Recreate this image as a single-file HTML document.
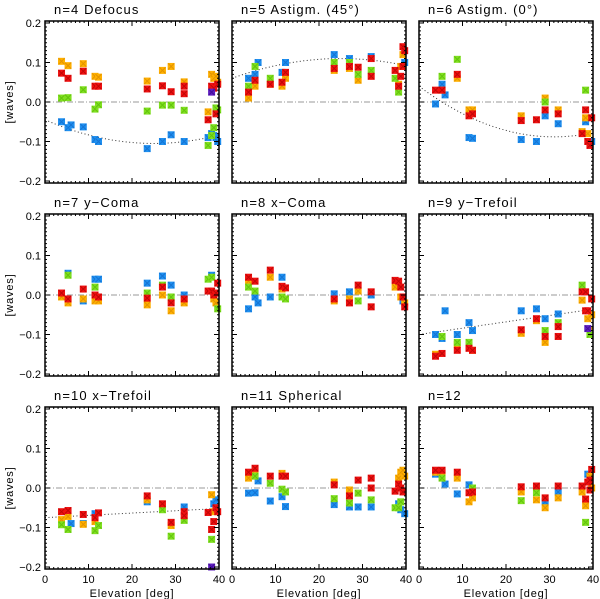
<!DOCTYPE html>
<html><head><meta charset="utf-8"><style>
html,body{margin:0;padding:0;background:#fff;}
svg{display:block;font-family:"Liberation Sans",sans-serif;}
</style></head><body>
<svg id="chart" width="600" height="599" viewBox="0 0 600 599" xmlns="http://www.w3.org/2000/svg"></svg>
<script>
const xTicks=[0,10,20,30,40];
const yTicks=[0.2,0.1,0.0,-0.1,-0.2];
const yTickLabels=["0.2","0.1","0.0","\u22120.1","\u22120.2"];
const titles=["n=4 Defocus","n=5 Astigm. (45\u00b0)","n=6 Astigm. (0\u00b0)","n=7 y\u2212Coma","n=8 x\u2212Coma","n=9 y\u2212Trefoil","n=10 x\u2212Trefoil","n=11 Spherical","n=12"];
// [elevation, waves]
const p4_blue=[[3.8,-.05],[5.3,-.065],[6,-.058],[8.8,-.063],[11.5,-.095],[12.3,-.1],[23.5,-.118],[27,-.1],[29,-.083],[32,-.1],[37.5,-.09],[38.3,-.08],[38.8,-.085],[39.3,-.09],[39.7,-.1]];
const p4_orange=[[3.8,.103],[5.3,.092],[8.8,.097],[11.5,.065],[12.3,.063],[23.5,.053],[27,.08],[29,.09],[32,.051],[37.5,-.025],[38.3,.07],[38.8,.06],[39.3,.065],[39.7,.05]];
const p4_green=[[3.8,.01],[5.3,.011],[8.8,.031],[11.5,-.018],[12.3,-.007],[23.5,-.023],[27,-.008],[29,-.008],[32,-.021],[37.5,-.11],[38.3,-.085],[38.8,-.065],[39.3,-.015],[39.7,-.02]];
const p4_red=[[3.8,.073],[5.3,.06],[8.8,.078],[11.5,.04],[12.3,.04],[23.5,.033],[27,.041],[29,.026],[32,.04],[32,.021],[37.5,-.045],[38.3,.04],[38.8,.035],[39.3,-.03],[39.7,.045]];
const p4_purple=[[38.3,.025]];
const p5_blue=[[3.8,.06],[5.3,.07],[6,.1],[11.5,.075],[12.3,.1],[23.5,.12],[27,.11],[32,.115],[39.7,.1]];
const p5_orange=[[3.8,.01],[5.3,.04],[8.8,.045],[11.5,.04],[12.3,.06],[23.5,.08],[27,.085],[29,.055],[38.3,.045],[38.8,.09],[39.3,.12]];
const p5_green=[[3.8,.04],[5.3,.09],[8.8,.06],[23.5,.1],[27,.1],[29,.07],[32,.08],[37.5,.06],[38.3,.025]];
const p5_red=[[3.8,.025],[5.3,.055],[8.8,.045],[11.5,.05],[12.3,.075],[23.5,.085],[27,.09],[29,.088],[32,.11],[32,.065],[37.5,.08],[38.3,.04],[38.8,.065],[39.3,.14],[39.3,.09],[39.7,.13]];
const p6_blue=[[3.8,-.005],[5.3,.045],[6,.018],[11.5,-.09],[12.3,-.092],[23.5,-.095],[27,-.1],[29,-.035],[32,-.055],[38.3,-.05],[39.7,-.1]];
const p6_orange=[[5.3,.03],[8.8,.06],[11.5,-.02],[12.3,-.02],[23.5,-.035],[29,.01],[32,-.02],[37.5,-.075],[38.3,-.04],[38.8,-.08]];
const p6_green=[[5.3,.065],[8.8,.108],[29,0],[38.3,.03]];
const p6_red=[[3.8,.03],[5.3,.03],[8.8,.07],[11.5,-.035],[12.3,-.03],[23.5,-.047],[27,-.045],[29,-.02],[32,-.03],[37.5,-.08],[38.3,-.02],[38.8,-.1],[39.3,-.11],[39.7,-.04]];
const p7_blue=[[5.3,.055],[8.8,-.015],[11.5,.04],[12.3,.04],[23.5,.03],[27,.048],[29,.025],[32,0],[38.3,.05]];
const p7_orange=[[3.8,-.005],[5.3,-.02],[8.8,-.01],[11.5,-.015],[12.3,-.015],[23.5,-.025],[27,0],[29,-.04],[32,-.02],[38.8,-.01],[39.3,-.02]];
const p7_green=[[5.3,.05],[11.5,.02],[23.5,.005],[27,.025],[29,-.005],[37.5,.04],[38.3,.045],[39.7,-.035]];
const p7_red=[[3.8,.005],[5.3,-.01],[8.8,.015],[11.5,0],[12.3,-.005],[23.5,-.008],[27,.02],[29,-.02],[32,-.01],[37.5,.01],[38.3,.01],[38.8,0],[39.3,.005],[39.7,.03]];
const p8_blue=[[3.8,-.035],[5.3,-.005],[6,-.02],[8.8,-.005],[11.5,.045],[23.5,.003],[27,.008],[32,0],[39.3,-.015]];
const p8_orange=[[3.8,.035],[8.8,.045],[11.5,.015],[23.5,-.015],[27,-.01],[29,.01],[37.5,.02],[38.3,.03],[38.8,-.005],[39.7,-.02]];
const p8_green=[[3.8,.02],[5.3,.01],[11.5,-.005],[12.3,-.01],[29,-.015]];
const p8_red=[[3.8,.045],[5.3,.035],[8.8,.063],[11.5,.022],[12.3,.018],[23.5,-.01],[27,-.02],[29,.025],[32,.008],[32,-.03],[37.5,.037],[38.3,.035],[38.8,.02],[39.3,-.005],[39.7,-.03]];
const p9_blue=[[3.8,-.1],[5.3,-.11],[6,-.04],[8.8,-.1],[11.5,-.07],[12.3,-.09],[23.5,-.04],[27,-.035],[29,-.06],[32,-.048]];
const p9_orange=[[3.8,-.15],[8.8,-.125],[12.3,-.14],[23.5,-.097],[27,-.065],[29,-.12],[37.5,-.013],[38.8,-.06],[39.3,-.09],[39.7,-.05]];
const p9_green=[[5.3,-.105],[8.8,-.12],[11.5,-.12],[29,-.09],[32,-.07],[37.5,.025],[39.3,-.1]];
const p9_red=[[3.8,-.155],[5.3,-.148],[8.8,-.14],[11.5,-.135],[12.3,-.14],[23.5,-.088],[27,-.06],[29,-.105],[32,-.08],[32,-.105],[37.5,.008],[38.3,.008],[38.3,-.04],[38.8,-.04],[39.7,-.01]];
const p9_purple=[[38.8,-.085]];
const p10_blue=[[6,-.09],[8.8,-.09],[11.5,-.065],[23.5,-.035],[32,-.048],[38.8,-.04],[39.3,-.03]];
const p10_orange=[[3.8,-.08],[5.3,-.072],[8.8,-.092],[11.5,-.085],[23.5,-.03],[29,-.095],[38.3,-.017],[38.8,-.06]];
const p10_green=[[3.8,-.093],[5.3,-.105],[11.5,-.108],[12.3,-.095],[27,-.055],[29,-.122],[32,-.082],[38.3,-.13]];
const p10_red=[[3.8,-.06],[5.3,-.057],[8.8,-.067],[11.5,-.075],[12.3,-.063],[23.5,-.02],[27,-.04],[29,-.087],[32,-.06],[32,-.07],[37.5,-.062],[38.3,-.105],[38.8,-.085],[39.3,-.05],[39.7,-.06]];
const p10_purple=[[38.3,-.2]];
const p11_blue=[[3.8,-.013],[5.3,-.012],[6,.018],[8.8,-.033],[11.5,-.022],[12.3,-.047],[23.5,-.042],[27,-.048],[29,-.048],[32,-.048],[38.3,-.04],[38.8,-.055],[39.7,-.065]];
const p11_orange=[[3.8,.025],[5.3,.035],[11.5,.037],[23.5,.015],[27,-.005],[38.3,.025],[38.8,.04],[39.3,.045],[39.7,.03]];
const p11_green=[[5.3,.03],[8.8,.012],[11.5,-.003],[12.3,-.01],[23.5,-.027],[27,-.038],[29,-.013],[32,-.03],[37.5,-.05],[38.3,-.05],[38.8,-.035]];
const p11_red=[[3.8,.04],[5.3,.05],[8.8,.03],[11.5,.03],[12.3,.03],[23.5,.008],[27,-.02],[29,.02],[32,.025],[32,0],[37.5,-.008],[38.3,.01],[38.8,0],[39.3,-.01]];
const p12_blue=[[3.8,.035],[6,.01],[8.8,-.015],[11.5,.008],[29,-.035],[32,-.01],[38.8,.035]];
const p12_orange=[[3.8,.04],[5.3,.04],[8.8,.025],[11.5,-.035],[12.3,-.025],[23.5,-.01],[27,-.03],[29,-.05],[32,-.025],[37.5,-.01],[38.3,-.045],[39.3,.03],[39.7,0]];
const p12_green=[[5.3,.025],[12.3,0],[23.5,-.032],[27,-.012],[38.3,-.087]];
const p12_red=[[3.8,.045],[5.3,.045],[8.8,.04],[11.5,-.012],[12.3,-.01],[23.5,.003],[27,.005],[29,-.025],[32,.005],[37.5,.005],[38.3,-.028],[38.8,.015],[39.3,.02],[39.3,-.005],[39.7,.047]];
// fit coefficients [a0,a1,a2]
const fit4=[-.045,-.0048,.000096];
const fit5=[.06,.004,-.00008];
const fit6=[.04,-.00826,.000133];
const fit9=[-.1,.0016,0];
const fit10=[-.075,.00058,0];

const panels=[
 {b:p4_blue,o:p4_orange,g:p4_green,r:p4_red,p:p4_purple,f:fit4},
 {b:p5_blue,o:p5_orange,g:p5_green,r:p5_red,f:fit5},
 {b:p6_blue,o:p6_orange,g:p6_green,r:p6_red,f:fit6},
 {b:p7_blue,o:p7_orange,g:p7_green,r:p7_red},
 {b:p8_blue,o:p8_orange,g:p8_green,r:p8_red},
 {b:p9_blue,o:p9_orange,g:p9_green,r:p9_red,p:p9_purple,f:fit9},
 {b:p10_blue,o:p10_orange,g:p10_green,r:p10_red,p:p10_purple,f:fit10},
 {b:p11_blue,o:p11_orange,g:p11_green,r:p11_red},
 {b:p12_blue,o:p12_orange,g:p12_green,r:p12_red}
];
const NS="http://www.w3.org/2000/svg";
const svg=document.getElementById('chart');
function mk(tag,attrs,parent){const e=document.createElementNS(NS,tag);for(const k in attrs)e.setAttribute(k,attrs[k]);(parent||svg).appendChild(e);return e;}
const colL=[45,232,419], colW=174, rowT=[21,214,407], rowH=162;
const colors={b:["#1e90f0","#1060c0"],o:["#ffb000","#d08000"],g:["#80e020","#50b000"],r:["#f01010","#a00000"],p:["#6020c0","#300080"]};
panels.forEach((P,i)=>{
  const c=i%3, r=Math.floor(i/3);
  const L=colL[c], T=rowT[r], W=colW, H=rowH;
  const g=mk('g',{});
  
  
  const sx=v=>L+v/40*W;
  const sy=v=>T+2+(0.2-v)/0.4*(H-4);
  const t=mk('text',{x:L+9,y:T-7,'font-size':13,'letter-spacing':'1.1','fill':'#000'},g);
  t.textContent=titles[i];
  
  
  const z=mk('line',{x1:L,x2:L+W,y1:sy(0),y2:sy(0),stroke:'#999','stroke-width':1,'stroke-dasharray':'6,2,1,2'},g);
  
  
  if(P.f){let d='';for(let x=0;x<=40;x+=0.5){const v=P.f[0]+P.f[1]*x+P.f[2]*x*x;d+=(x?'L':'M')+sx(x).toFixed(1)+','+sy(v).toFixed(1);}
    const fl=mk('path',{d:d,fill:'none',stroke:'#333','stroke-width':1,'stroke-dasharray':'1,2.5'},g);
    
    }
  ['b','o','g','r','p'].forEach(k=>{
    if(!P[k])return;
    P[k].forEach(pt=>{
      const x=sx(pt[0]), y=sy(pt[1]);
      const m=mk('g',{},g);
      
      
      mk('rect',{x:x-3.5,y:y-3.5,width:7,height:7,fill:colors[k][0]},m);
      mk('path',{d:`M${x-3},${y-3}L${x+3},${y+3}M${x+3},${y-3}L${x-3},${y+3}`,stroke:colors[k][1],'stroke-width':1,opacity:0.6},m);
    });
  });
  const fr=mk('rect',{x:L,y:T,width:W,height:H,fill:'none',stroke:'#000','stroke-width':1.5},g);
  
  
  let d='';
  for(let x=0;x<=40;x++){const len=(x%10===0)?5:2;const X=sx(x);d+=`M${X},${T+H}v${-len}M${X},${T}v${len}`;}
  for(let k=-20;k<=20;k++){const v=k/100;const len=(k%10===0)?5:2;const Y=sy(v);d+=`M${L},${Y}h${len}M${L+W},${Y}h${-len}`;}
  mk('path',{d:d,stroke:'#000','stroke-width':1},g);
  if(c===0){
    yTicks.forEach((v,j)=>{const tl=mk('text',{x:L-4,y:sy(v)+4,'font-size':11,'text-anchor':'end'},g);tl.textContent=yTickLabels[j];
      
      });
    const yl=mk('text',{x:0,y:0,'font-size':11,'text-anchor':'middle','transform':`translate(13,${T+H/2}) rotate(-90)`,'letter-spacing':'0.8'},g);
    yl.textContent='[waves]';
    
    
  }
  if(r===2){
    xTicks.forEach(v=>{const tl=mk('text',{x:sx(v),y:T+H+14,'font-size':11,'text-anchor':'middle'},g);tl.textContent=String(v);
      
      });
    const xl=mk('text',{x:L+W/2,y:T+H+28,'font-size':11,'text-anchor':'middle','letter-spacing':'0.8'},g);
    xl.textContent='Elevation [deg]';
    
    
  }
});
</script>
</body></html>
